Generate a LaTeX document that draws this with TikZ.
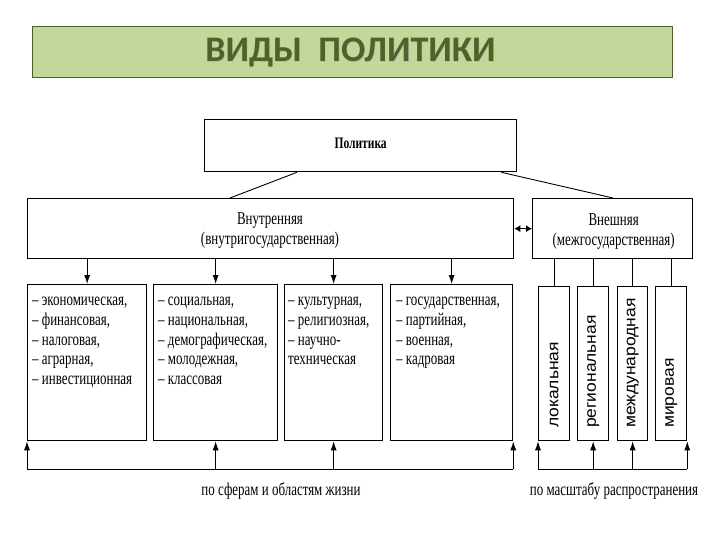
\documentclass[tikz,border=0pt]{standalone}
\usepackage{fontspec}
\setmainfont{Liberation Serif}
\newfontfamily\cond[FakeStretch=0.72]{Liberation Serif}
\newfontfamily\titlefont{Carlito}
\newfontfamily\vsans[FakeStretch=1.09]{Liberation Sans}
\usetikzlibrary{arrows.meta,calc}
\definecolor{bannerfill}{HTML}{C4D79B}
\definecolor{bannerline}{HTML}{4A5F2A}
\definecolor{titlegreen}{HTML}{4F6228}
\tikzset{
  box/.style={draw=black, line width=1.3pt, rectangle, inner sep=0pt, anchor=north west},
  conn/.style={draw=black, line width=0.9pt},
  arr/.style={conn, -{Latex[length=9pt,width=6pt]}},
  dblarr/.style={conn, {Latex[length=6pt,width=7pt]}-{Latex[length=6pt,width=7pt]}},
  listtext/.style={anchor=north west, align=left, inner sep=0pt, font=\cond\fontsize{18}{19.7}\selectfont},
  headtext/.style={align=center, inner sep=0pt, font=\cond\fontsize{18}{20}\selectfont},
  vtext/.style={rotate=90, anchor=west, inner sep=0pt, font=\vsans\fontsize{16}{18}\selectfont},
  lbl/.style={inner sep=0pt, font=\cond\fontsize{18}{20}\selectfont}
}
\begin{document}
\begin{tikzpicture}[x=1pt,y=-1pt]
\useasboundingbox (0,0) rectangle (720,540);
% banner
\node[draw=bannerline, fill=bannerfill, line width=1pt, anchor=north west, minimum width=640pt, minimum height=51pt, inner sep=0pt] (banner) at (32,26) {};
\node[text=gray!55, font=\titlefont\bfseries\fontsize{36}{40}\selectfont, inner sep=0pt] (titleshadow) at ($(banner.center)+(-1.5,1.5)$) {ВИДЫ\ \ ПОЛИТИКИ};
\node[text=titlegreen, font=\titlefont\bfseries\fontsize{36}{40}\selectfont, inner sep=0pt] (title) at ($(banner.center)+(-2,0)$) {ВИДЫ\ \ ПОЛИТИКИ};
% top box
\node[box, minimum width=312pt, minimum height=52pt] (pol) at (204,119) {};
\node[font=\cond\bfseries\fontsize{16}{18}\selectfont, inner sep=0pt] (poltext) at ($(pol.center)+(0,-2)$) {Политика};
% second level
\node[box, minimum width=486pt, minimum height=60pt] (vn) at (27,198) {};
\node[headtext] (vntext) at (270,231) {Внутренняя\\(внутригосударственная)};
\node[box, minimum width=160pt, minimum height=60pt] (ext) at (532,198) {};
\node[headtext] (exttext) at ($(ext.center)+(1,3)$) {Внешняя\\(межгосударственная)};
\draw[conn] ([xshift=93pt]pol.south west) -- ([xshift=203pt]vn.north west);
\draw[conn] ([xshift=-16pt]pol.south east) -- ([xshift=81pt]ext.north west);
\draw[dblarr] (vn.east) -- (ext.west);
% lower boxes
\node[box, minimum width=119pt, minimum height=156pt] (b1) at (27,284) {};
\node[box, minimum width=124pt, minimum height=156pt] (b2) at (153,284) {};
\node[box, minimum width=98pt, minimum height=156pt] (b3) at (284,284) {};
\node[box, minimum width=122pt, minimum height=156pt] (b4) at (390,284) {};
\node[listtext] (t1) at (32,297) {– экономическая,\\– финансовая,\\– налоговая,\\– аграрная,\\– инвестиционная};
\node[listtext] (t2) at (158,297) {– социальная,\\– национальная,\\– демографическая,\\– молодежная,\\– классовая};
\node[listtext] (t3) at (288,297) {– культурная,\\– религиозная,\\– научно-\\техническая};
\node[listtext] (t4) at (396,297) {– государственная,\\– партийная,\\– военная,\\– кадровая};
\foreach \b in {b1,b2,b3,b4}{
  \draw[arr] (\b.north |- vn.south) -- (\b.north);
}
% bus bottom left
\coordinate (bus) at (0,469);
\draw[conn] (b1.south west |- bus) -- (b4.south east |- bus);
\draw[arr] (b1.south west |- bus) -- (b1.south west);
\draw[arr] (b2.south |- bus) -- (b2.south);
\draw[arr] (b3.south |- bus) -- (b3.south);
\draw[arr] (b4.south east |- bus) -- (b4.south east);
\node[lbl] (lblL) at (281,491) {по сферам и областям жизни};
% right vertical boxes
\node[box, minimum width=31pt, minimum height=154pt] (r1) at (538,286) {};
\node[box, minimum width=31pt, minimum height=154pt] (r2) at (577,286) {};
\node[box, minimum width=30pt, minimum height=154pt] (r3) at (617,286) {};
\node[box, minimum width=31pt, minimum height=154pt] (r4) at (655,286) {};
\node[vtext] (v1) at ($(r1.center |- 0,428)$) {локальная};
\node[vtext] (v2) at ($(r2.center |- 0,428)$) {региональная};
\node[vtext] (v3) at ($(r3.center |- 0,428)$) {международная};
\node[vtext] (v4) at ($(r4.center |- 0,428)$) {мировая};
\foreach \r in {r1,r2,r3,r4}{
  \draw[conn, line width=0.6pt] (\r.north |- ext.south) -- (\r.north);
}
\draw[conn] (r1.south west |- bus) -- (r4.south east |- bus);
\draw[arr] (r1.south west |- bus) -- (r1.south west);
\draw[arr] (r2.south |- bus) -- (r2.south);
\draw[arr] (r3.south |- bus) -- (r3.south);
\draw[arr] (r4.south east |- bus) -- (r4.south east);
\node[lbl] (lblR) at (614,491) {по масштабу распространения};
\end{tikzpicture}
\end{document}
